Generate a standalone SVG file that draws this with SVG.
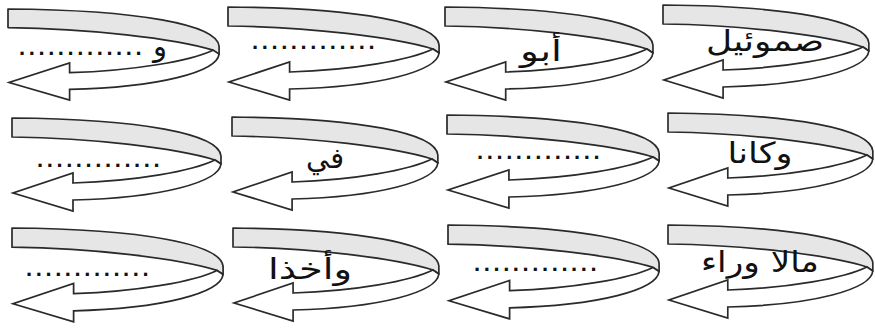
<svg xmlns="http://www.w3.org/2000/svg" xmlns:xlink="http://www.w3.org/1999/xlink" width="875" height="331" viewBox="0 0 875 331">
<style>
.band{fill:#e6e6e6;stroke:#2a2a2a;stroke-width:1.7;stroke-linejoin:round}
.shaft{fill:#ffffff;stroke:#2a2a2a;stroke-width:1.7;stroke-linejoin:miter}
.dots{font-family:"Liberation Sans",sans-serif;font-size:22px;font-weight:bold;letter-spacing:3.6px;fill:#111}
.ar{font-family:"DejaVu Sans","Noto Sans",sans-serif;font-size:29px;fill:#111;text-anchor:middle}
</style>
<defs>
<g id="arrow">
<path class="band" d="M0,0 C130,1 207,16 209,38 L209,46 L203,42 C165,30 80,20 0,19 Z"/>
<path class="shaft" d="M209,46 C207,64 150,80 61,82 L61,93 L1,75 L61,55 L61,65 C125,63 180,53 203,42 Z"/>
</g>
</defs>
<rect width="875" height="331" fill="#ffffff"/>
<g id="n-r0c0">
<use xlink:href="#arrow" transform="translate(8,9) scale(1.01,0.98)"/>
<text class="dots" x="19" y="55">.............</text>
<text class="ar" x="160" y="56">و</text>
</g>
<g id="n-r0c1">
<use xlink:href="#arrow" transform="translate(228,7) scale(1.01,1)"/>
<text class="dots" x="252" y="49">.............</text>
</g>
<g id="n-r0c2">
<use xlink:href="#arrow" transform="translate(445,7) scale(0.995,1)"/>
<text class="ar" x="541" y="61" textLength="42" lengthAdjust="spacingAndGlyphs">أبو</text>
</g>
<g id="n-r0c3">
<use xlink:href="#arrow" transform="translate(663,5) scale(0.985,1)"/>
<text class="ar" x="765" y="51" textLength="118" lengthAdjust="spacingAndGlyphs">صموئيل</text>
</g>
<g id="n-r1c0">
<use xlink:href="#arrow" transform="translate(12,118)"/>
<text class="dots" x="37" y="167">.............</text>
</g>
<g id="n-r1c1">
<use xlink:href="#arrow" transform="translate(232,117) scale(0.985,1)"/>
<text class="ar" x="325" y="168">في</text>
</g>
<g id="n-r1c2">
<use xlink:href="#arrow" transform="translate(447,115) scale(1.015,1)"/>
<text class="dots" x="477" y="159">.............</text>
</g>
<g id="n-r1c3">
<use xlink:href="#arrow" transform="translate(668,113) scale(0.98,1)"/>
<text class="ar" x="760" y="163" textLength="65" lengthAdjust="spacingAndGlyphs">وكانا</text>
</g>
<g id="n-r2c0">
<use xlink:href="#arrow" transform="translate(12,228) scale(1.01,1.01)"/>
<text class="dots" x="26" y="276">.............</text>
</g>
<g id="n-r2c1">
<use xlink:href="#arrow" transform="translate(233,228) scale(0.985,1)"/>
<text class="ar" x="310" y="279" textLength="84" lengthAdjust="spacingAndGlyphs">وأخذا</text>
</g>
<g id="n-r2c2">
<use xlink:href="#arrow" transform="translate(448,225) scale(1.01,1.01)"/>
<text class="dots" x="474" y="271">.............</text>
</g>
<g id="n-r2c3">
<use xlink:href="#arrow" transform="translate(668,225) scale(0.98,1)"/>
<text class="ar" x="760" y="272" textLength="118" lengthAdjust="spacingAndGlyphs">مالا وراء</text>
</g>
<g id="connectors"></g>
</svg>
